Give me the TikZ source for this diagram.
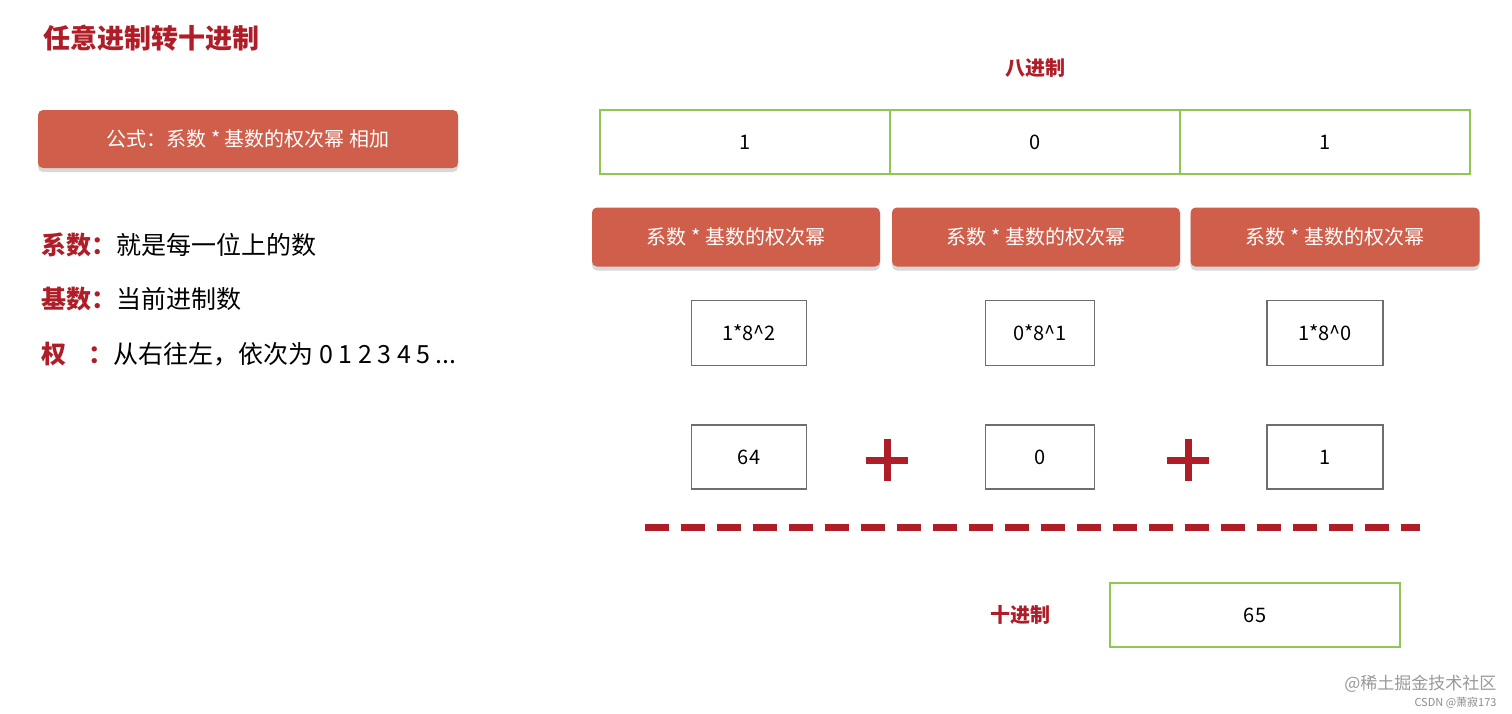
\documentclass[tikz,border=0pt]{standalone}
\usepackage{fontspec}
\setmainfont{Noto Sans CJK SC}
\newfontfamily\cjk{Noto Sans CJK SC}
\usetikzlibrary{shadows}
\definecolor{dred}{RGB}{175,30,40}
\definecolor{boxred}{RGB}{207,95,75}
\definecolor{lgreen}{RGB}{145,198,85}
\definecolor{gborder}{RGB}{110,110,110}
\begin{document}
\begin{tikzpicture}[x=1pt,y=-1pt,
  redbox/.style={fill=boxred,rounded corners=5pt,text=white,font=\fontsize{20}{22}\selectfont,inner sep=0,drop shadow={shadow xshift=0pt,shadow yshift=-4pt,fill=black!30}},
  greenbox/.style={draw=lgreen,line width=2.5pt,font=\fontsize{20}{22}\selectfont,inner sep=0},
  graybox/.style={draw=gborder,line width=1.5pt,font=\fontsize{20}{22}\selectfont,inner sep=0},
  plus/.style={dred,line width=7pt}]
\fill[white] (0,0) rectangle (1512,713);
\useasboundingbox (0,0) rectangle (1512,713);
\node[anchor=west,text=dred,font=\fontsize{27}{30}\selectfont\bfseries] (title) at (40,38) {任意进制转十进制};
\node[redbox,minimum width=420pt,minimum height=58pt] (formula) at (248,139) {公式：系数 * 基数的权次幂 相加};
\node[anchor=west,font=\fontsize{25}{28}\selectfont] (l1) at (38,245) {\textcolor{dred}{\bfseries 系数：}就是每一位上的数};
\node[anchor=west,font=\fontsize{25}{28}\selectfont] (l2) at (38,299) {\textcolor{dred}{\bfseries 基数：}当前进制数};
\node[anchor=west,font=\fontsize{25}{28}\selectfont] (l3) at (38,354) {\textcolor{dred}{\bfseries 权\hspace{22pt}：}从右往左，依次为 0 1 2 3 4 5 ...};
\node[text=dred,font=\fontsize{20}{22}\selectfont\bfseries] (oct) at (1035,68) {八进制};
\node[greenbox,minimum width=290pt,minimum height=64pt] (g1) at (745,142) {1};
\node[greenbox,minimum width=290pt,minimum height=64pt] (g2) at (1035,142) {0};
\node[greenbox,minimum width=290pt,minimum height=64pt] (g3) at (1325,142) {1};
\node[redbox,minimum width=288pt,minimum height=59pt] (r1) at (736,237) {系数 * 基数的权次幂};
\node[redbox,minimum width=288pt,minimum height=59pt] (r2) at (1036,237) {系数 * 基数的权次幂};
\node[redbox,minimum width=289pt,minimum height=59pt] (r3) at (1335,237) {系数 * 基数的权次幂};
\node[graybox,minimum width=115pt,minimum height=65pt] (e1) at (749,333) {1*8\^{}2};
\node[graybox,minimum width=109pt,minimum height=65pt] (e2) at (1040,333) {0*8\^{}1};
\node[graybox,minimum width=116pt,minimum height=65pt] (e3) at (1325,333) {1*8\^{}0};
\node[graybox,minimum width=115pt,minimum height=64pt] (v1) at (749,457) {64};
\node[graybox,minimum width=109pt,minimum height=64pt] (v2) at (1040,457) {0};
\node[graybox,minimum width=116pt,minimum height=64pt] (v3) at (1325,457) {1};
\coordinate (p1) at (887,460);
\coordinate (p2) at (1188,460);
\draw[plus] ([xshift=-21pt]p1) -- ([xshift=21pt]p1) ([yshift=-21pt]p1) -- ([yshift=21pt]p1);
\draw[plus] ([xshift=-21pt]p2) -- ([xshift=21pt]p2) ([yshift=-21pt]p2) -- ([yshift=21pt]p2);
\coordinate (da) at (645,527);
\coordinate (db) at (1420,527);
\draw[dred,line width=7pt,dash pattern=on 24pt off 12pt] (da) -- (db);
\node[text=dred,font=\fontsize{20}{22}\selectfont\bfseries] (dec) at (1020,615) {十进制};
\node[greenbox,minimum width=290pt,minimum height=64pt] (res) at (1255,615) {65};
\node[anchor=east,text=black!40,font=\fontsize{17}{19}\selectfont] (wm1) at (1500,684) {@稀土掘金技术社区};
\node[anchor=east,text=black!45,font=\fontsize{11}{12}\selectfont] (wm2) at (1500,703) {CSDN @萧寂173};
\end{tikzpicture}
\end{document}
